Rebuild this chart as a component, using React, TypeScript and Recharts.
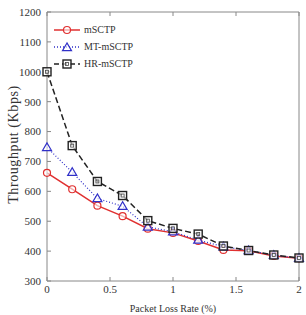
import React from 'react';
import { LineChart, Line, XAxis, YAxis, Legend } from 'recharts';

const lossRates = [0, 0.2, 0.4, 0.6, 0.8, 1.0, 1.2, 1.4, 1.6, 1.8, 2.0];
const mSCTP = [662, 607, 552, 517, 475, 461, 434, 404, 401, 384, 376];
const mtSCTP = [747, 664, 576, 550, 481, 465, 437, 415, 402, 386, 376];
const hrSCTP = [1000, 753, 633, 586, 502, 476, 457, 417, 402, 387, 377];
const xTicks = [0, 0.5, 1, 1.5, 2];
const yTicks = [300, 400, 500, 600, 700, 800, 900, 1000, 1100, 1200];

const data = lossRates.map((x, i) => ({ x, m: mSCTP[i], mt: mtSCTP[i], hr: hrSCTP[i] }));

const FONT = '"Liberation Serif", "DejaVu Serif", serif';

const Circle = (props: any) => {
  const { cx, cy } = props;
  if (cx == null || cy == null) return null;
  return <circle cx={cx} cy={cy} r={3.5} fill="#fff" fillOpacity={0.6} stroke="#e03030" strokeWidth={1.2} />;
};
const Tri = (props: any) => {
  const { cx, cy } = props;
  if (cx == null || cy == null) return null;
  const s = 4.5;
  return (
    <polygon
      points={`${cx},${cy - s} ${cx - s},${cy + s * 0.7} ${cx + s},${cy + s * 0.7}`}
      fill="#fff"
      fillOpacity={0.6}
      stroke="#3030c8"
      strokeWidth={1.2}
    />
  );
};
const Sq = (props: any) => {
  const { cx, cy } = props;
  if (cx == null || cy == null) return null;
  return (
    <g>
      <rect x={cx - 4} y={cy - 4} width={8} height={8} fill="#fff" fillOpacity={0.6} stroke="#222" strokeWidth={1.4} />
      <rect x={cx - 1.5} y={cy - 1.5} width={3} height={3} fill="none" stroke="#444" strokeWidth={0.8} />
    </g>
  );
};

const legendItems = [
  { name: 'mSCTP', color: '#e03030', dash: undefined as string | undefined, marker: 'c' },
  { name: 'MT-mSCTP', color: '#3030c8', dash: '1 2', marker: 't' },
  { name: 'HR-mSCTP', color: '#222', dash: '5 3', marker: 's' },
];

const LegendContent = () => (
  <div style={{ fontFamily: FONT, fontSize: 10, color: '#333' }}>
    {legendItems.map((it) => (
      <div key={it.name} style={{ display: 'flex', alignItems: 'center', height: 17 }}>
        <svg width={28} height={12}>
          <line x1={0} y1={6} x2={26} y2={6} stroke={it.color} strokeWidth={1.5} strokeDasharray={it.dash} />
          {it.marker === 'c' && <Circle cx={13} cy={6} />}
          {it.marker === 't' && <Tri cx={13} cy={6.5} />}
          {it.marker === 's' && <Sq cx={13} cy={6} />}
        </svg>
        <span style={{ marginLeft: 2 }}>{it.name}</span>
      </div>
    ))}
  </div>
);

const YLabel = (props: any) => {
  const vb = props.viewBox || {};
  const cy = (vb.y ?? 13) + (vb.height ?? 268) / 2 - 2;
  const cx = 13;
  return (
    <text
      x={cx}
      y={cy}
      transform={`rotate(-90, ${cx}, ${cy})`}
      textAnchor="middle"
      dominantBaseline="central"
      style={{ fontFamily: FONT, fontSize: 14, fill: '#333', letterSpacing: 0.6 }}
    >
      Throughput (Kbps)
    </text>
  );
};

const tickStyle = { fontFamily: FONT, fontSize: 11, fill: '#333' };

export default function App() {
  return (
    <div style={{ position: 'absolute', left: 0, top: 0, background: '#fff' }}>
      <LineChart width={306} height={315} data={data} margin={{ top: 12, right: 7, left: 0, bottom: 0 }}>
        <XAxis
          dataKey="x"
          type="number"
          domain={[0, 2]}
          ticks={xTicks}
          height={34}
          stroke="#888"
          tickSize={-4}
          tickMargin={8}
          tick={tickStyle}
          label={{ value: 'Packet Loss Rate (%)', position: 'insideBottom', offset: 3, style: { fontFamily: FONT, fontSize: 10, fill: '#333' } }}
        />
        <XAxis
          xAxisId="top"
          dataKey="x"
          type="number"
          domain={[0, 2]}
          ticks={xTicks}
          orientation="top"
          height={1}
          mirror
          stroke="#888"
          tickSize={4}
          tickFormatter={() => ''}
        />
        <YAxis
          domain={[300, 1200]}
          ticks={yTicks}
          width={47}
          stroke="#888"
          tickSize={-4}
          tickMargin={10}
          tick={tickStyle}
          label={<YLabel />}
        />
        <YAxis
          yAxisId="right"
          domain={[300, 1200]}
          ticks={yTicks}
          orientation="right"
          width={1}
          mirror
          stroke="#888"
          tickSize={4}
          tickFormatter={() => ''}
        />
        <Legend
          layout="vertical"
          verticalAlign="middle"
          align="center"
          content={<LegendContent />}
          wrapperStyle={{ left: 54, top: 21, width: 100 }}
        />
        <Line dataKey="m" name="mSCTP" stroke="#e03030" strokeWidth={1.5} dot={<Circle />} isAnimationActive={false} />
        <Line dataKey="mt" name="MT-mSCTP" stroke="#3030c8" strokeWidth={1.2} strokeDasharray="1 2" dot={<Tri />} isAnimationActive={false} />
        <Line dataKey="hr" name="HR-mSCTP" stroke="#222" strokeWidth={1.5} strokeDasharray="6 3" dot={<Sq />} isAnimationActive={false} />
      </LineChart>
    </div>
  );
}
